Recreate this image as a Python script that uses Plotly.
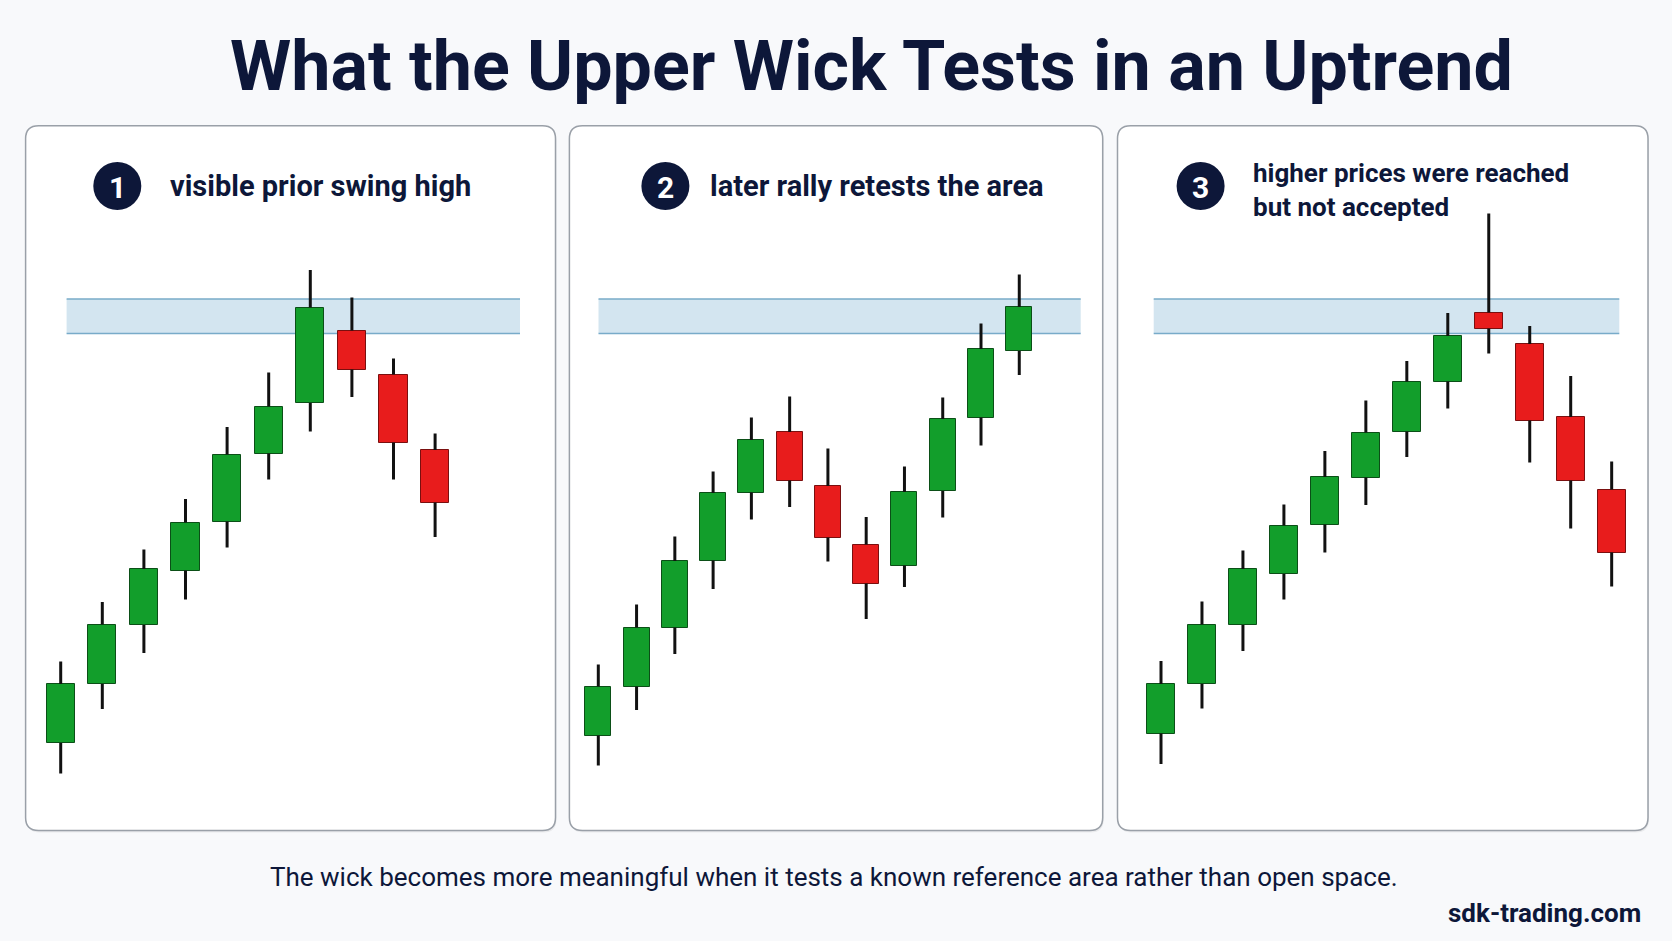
import plotly.graph_objects as go

W, H = 1672, 941

# ---------------- data (price units) ----------------
P1_OPEN  = [21.4, 33.2, 45.0, 55.9, 65.7, 79.3, 89.4, 103.9, 95.1, 80.0]
P1_HIGH  = [37.7, 49.6, 60.1, 70.2, 84.6, 95.5, 116.0, 110.5, 98.3, 83.3]
P1_LOW   = [15.3, 28.2, 39.4, 50.1, 60.5, 74.1, 83.7, 90.6, 74.1, 62.6]
P1_CLOSE = [33.2, 45.1, 56.2, 65.5, 79.1, 88.7, 108.5, 96.1, 81.5, 69.5]

P2_OPEN  = [22.9, 32.7, 44.5, 57.9, 71.5, 83.6, 72.8, 61.1, 56.9, 71.8, 86.5, 99.8]
P2_HIGH  = [37.1, 49.1, 62.7, 75.7, 86.5, 90.7, 80.3, 66.6, 76.7, 90.5, 105.3, 115.1]
P2_LOW   = [16.9, 28.0, 39.2, 52.2, 66.1, 68.6, 57.7, 46.2, 52.6, 66.5, 80.9, 95.0]
P2_CLOSE = [32.7, 44.5, 57.8, 71.4, 82.0, 73.9, 62.5, 53.3, 71.6, 86.2, 100.2, 108.6]

P3_OPEN  = [23.3, 33.2, 45.0, 55.2, 65.1, 74.5, 83.7, 93.7, 107.5, 101.2, 86.6, 72.1]
P3_HIGH  = [37.8, 49.7, 59.9, 69.1, 79.8, 89.9, 97.8, 107.4, 127.3, 104.8, 94.8, 77.7]
P3_LOW   = [17.2, 28.3, 39.8, 50.1, 59.5, 69.0, 78.6, 88.3, 99.3, 77.5, 64.3, 52.7]
P3_CLOSE = [33.2, 45.1, 56.2, 64.9, 74.6, 83.5, 93.7, 102.8, 104.3, 85.9, 73.9, 59.5]

BAND_LOW, BAND_HIGH = 103.3, 110.2

TITLE = "What the Upper Wick Tests in an Uptrend"
HEADERS = ["visible prior swing high",
           "later rally retests the area",
           "higher prices were reached<br>but not accepted"]
NUMBERS = ["1", "2", "3"]
SUBTITLE = "The wick becomes more meaningful when it tests a known reference area rather than open space."
SOURCE = "sdk-trading.com"

# ---------------- style ----------------
GREEN, GREEN_EDGE = "#129e2b", "#0b4f17"
RED, RED_EDGE = "#e81c1c", "#7a0f0f"
WICK = "#111111"
BAND_FILL, BAND_LINE = "#d3e5f0", "#78abc9"
NAVY = "#0d1739"
PANEL_BORDER = "#9aa0a8"
BG = "#f8f9fb"
FONT = "Roboto, Liberation Sans, sans-serif"

# layout (pixels): first candle centre, spacing, x-domain, band extent, panel box, header positions
PANELS = [
    dict(c0=60.7, s=41.6, L=40, R=525, band=(66.6, 520.0), box=(25.6, 125.8, 555.5, 830.6),
         circ=(117.3, 186.0), head=(168, 186), hsize=29),
    dict(c0=598.3, s=38.27, L=580, R=1088, band=(598.5, 1080.7), box=(569.4, 125.8, 1102.7, 830.6),
         circ=(665.4, 186.0), head=(708, 186), hsize=29),
    dict(c0=1161.0, s=40.97, L=1140, R=1630, band=(1153.7, 1619.3), box=(1117.5, 125.8, 1648.0, 830.6),
         circ=(1200.6, 186.0), head=(1251, 190), hsize=26),
]
DATA = [(P1_OPEN, P1_HIGH, P1_LOW, P1_CLOSE),
        (P2_OPEN, P2_HIGH, P2_LOW, P2_CLOSE),
        (P3_OPEN, P3_HIGH, P3_LOW, P3_CLOSE)]

Y_TOP_PX, Y_BOT_PX = 200, 800
Y_RANGE = [10, 130]
BODY_W = 0.68


def fx(x):
    return x / W


def fy(y):
    return 1 - y / H


def rrect(x0, y0, x1, y1, r):
    rx, ry = r, r
    pts = [
        ("M", [(x0 + rx, y0)]), ("L", [(x1 - rx, y0)]), ("Q", [(x1, y0), (x1, y0 + ry)]),
        ("L", [(x1, y1 - ry)]), ("Q", [(x1, y1), (x1 - rx, y1)]), ("L", [(x0 + rx, y1)]),
        ("Q", [(x0, y1), (x0, y1 - ry)]), ("L", [(x0, y0 + ry)]), ("Q", [(x0, y0), (x0 + rx, y0)]),
    ]
    s = ""
    for cmd, ps in pts:
        s += cmd + " " + " ".join(f"{fx(a):.5f},{fy(b):.5f}" for a, b in ps) + " "
    return s + "Z"


fig = go.Figure()
shapes = []
annotations = []
layout_axes = {}

for k, (pan, (o, h, l, c)) in enumerate(zip(PANELS, DATA), start=1):
    xa = "x" if k == 1 else f"x{k}"
    ya = "y" if k == 1 else f"y{k}"
    n = len(o)
    xs = list(range(n))
    lo = [min(a, b) for a, b in zip(o, c)]
    hi = [max(a, b) for a, b in zip(o, c)]
    up = [b >= a for a, b in zip(o, c)]

    # wicks (upper and lower segments)
    wx, wy = [], []
    for i in xs:
        wx += [i, i, None, i, i, None]
        wy += [h[i], hi[i], None, lo[i], l[i], None]
    fig.add_trace(go.Scatter(x=wx, y=wy, mode="lines", line=dict(color=WICK, width=3),
                             xaxis=xa, yaxis=ya, hoverinfo="skip", showlegend=False))
    # bodies
    fig.add_trace(go.Bar(x=xs, y=[b - a for a, b in zip(lo, hi)], base=lo, width=BODY_W,
                         marker=dict(color=[GREEN if u else RED for u in up],
                                     line=dict(color=[GREEN_EDGE if u else RED_EDGE for u in up], width=1)),
                         xaxis=xa, yaxis=ya, showlegend=False, hoverinfo="skip"))

    key = "" if k == 1 else str(k)
    layout_axes[f"xaxis{key}"] = dict(domain=[fx(pan["L"]), fx(pan["R"])],
                                      range=[(pan["L"] - pan["c0"]) / pan["s"], (pan["R"] - pan["c0"]) / pan["s"]],
                                      visible=False, anchor=ya, fixedrange=True)
    layout_axes[f"yaxis{key}"] = dict(domain=[fy(Y_BOT_PX), fy(Y_TOP_PX)], range=Y_RANGE,
                                      visible=False, anchor=xa, fixedrange=True)

    # panel box
    bx0, by0, bx1, by1 = pan["box"]
    shapes.append(dict(type="path", path=rrect(bx0 + 1, by0 + 2, bx1 + 1, by1 + 2, 13), xref="paper", yref="paper",
                       fillcolor="rgba(0,0,0,0.06)", line=dict(width=0), layer="below"))
    shapes.append(dict(type="path", path=rrect(bx0, by0, bx1, by1, 13), xref="paper", yref="paper",
                       fillcolor="#ffffff", line=dict(color=PANEL_BORDER, width=1.5), layer="below"))
    # reference band
    b0, b1 = pan["band"]
    shapes.append(dict(type="rect", xref="paper", yref=ya, x0=fx(b0), x1=fx(b1), y0=BAND_LOW, y1=BAND_HIGH,
                       fillcolor=BAND_FILL, line=dict(width=0), layer="below"))
    for yv in (BAND_LOW, BAND_HIGH):
        shapes.append(dict(type="line", xref="paper", yref=ya, x0=fx(b0), x1=fx(b1), y0=yv, y1=yv,
                           line=dict(color=BAND_LINE, width=1.5), layer="below"))
    # number badge
    cx, cy = pan["circ"]
    r = 24
    shapes.append(dict(type="circle", xref="paper", yref="paper", x0=fx(cx - r), x1=fx(cx + r),
                       y0=fy(cy + r), y1=fy(cy - r), fillcolor=NAVY, line=dict(width=0)))
    annotations.append(dict(x=fx(cx), y=fy(cy + 1), xref="paper", yref="paper", text=NUMBERS[k - 1],
                            showarrow=False, xanchor="center", yanchor="middle",
                            font=dict(family=FONT, size=30, color="white", weight=700)))
    hx, hy = pan["head"]
    annotations.append(dict(x=fx(hx), y=fy(hy), xref="paper", yref="paper", text=HEADERS[k - 1],
                            showarrow=False, xanchor="left", yanchor="middle", align="left",
                            font=dict(family=FONT, size=pan["hsize"], color=NAVY, weight=700)))

annotations.append(dict(x=fx(871), y=fy(66), xref="paper", yref="paper", text=TITLE, showarrow=False,
                        xanchor="center", yanchor="middle",
                        font=dict(family=FONT, size=70, color=NAVY, weight=700)))
annotations.append(dict(x=fx(834), y=fy(877), xref="paper", yref="paper", text=SUBTITLE, showarrow=False,
                        xanchor="center", yanchor="middle",
                        font=dict(family=FONT, size=26, color=NAVY)))
annotations.append(dict(x=fx(1643), y=fy(913), xref="paper", yref="paper", text=SOURCE, showarrow=False,
                        xanchor="right", yanchor="middle",
                        font=dict(family=FONT, size=26, color=NAVY, weight=700)))

fig.update_layout(width=W, height=H, margin=dict(l=0, r=0, t=0, b=0),
                  paper_bgcolor=BG, plot_bgcolor="rgba(0,0,0,0)",
                  shapes=shapes, annotations=annotations, showlegend=False,
                  bargap=0, **layout_axes)

fig.write_html("out.html", config={"displayModeBar": False})
